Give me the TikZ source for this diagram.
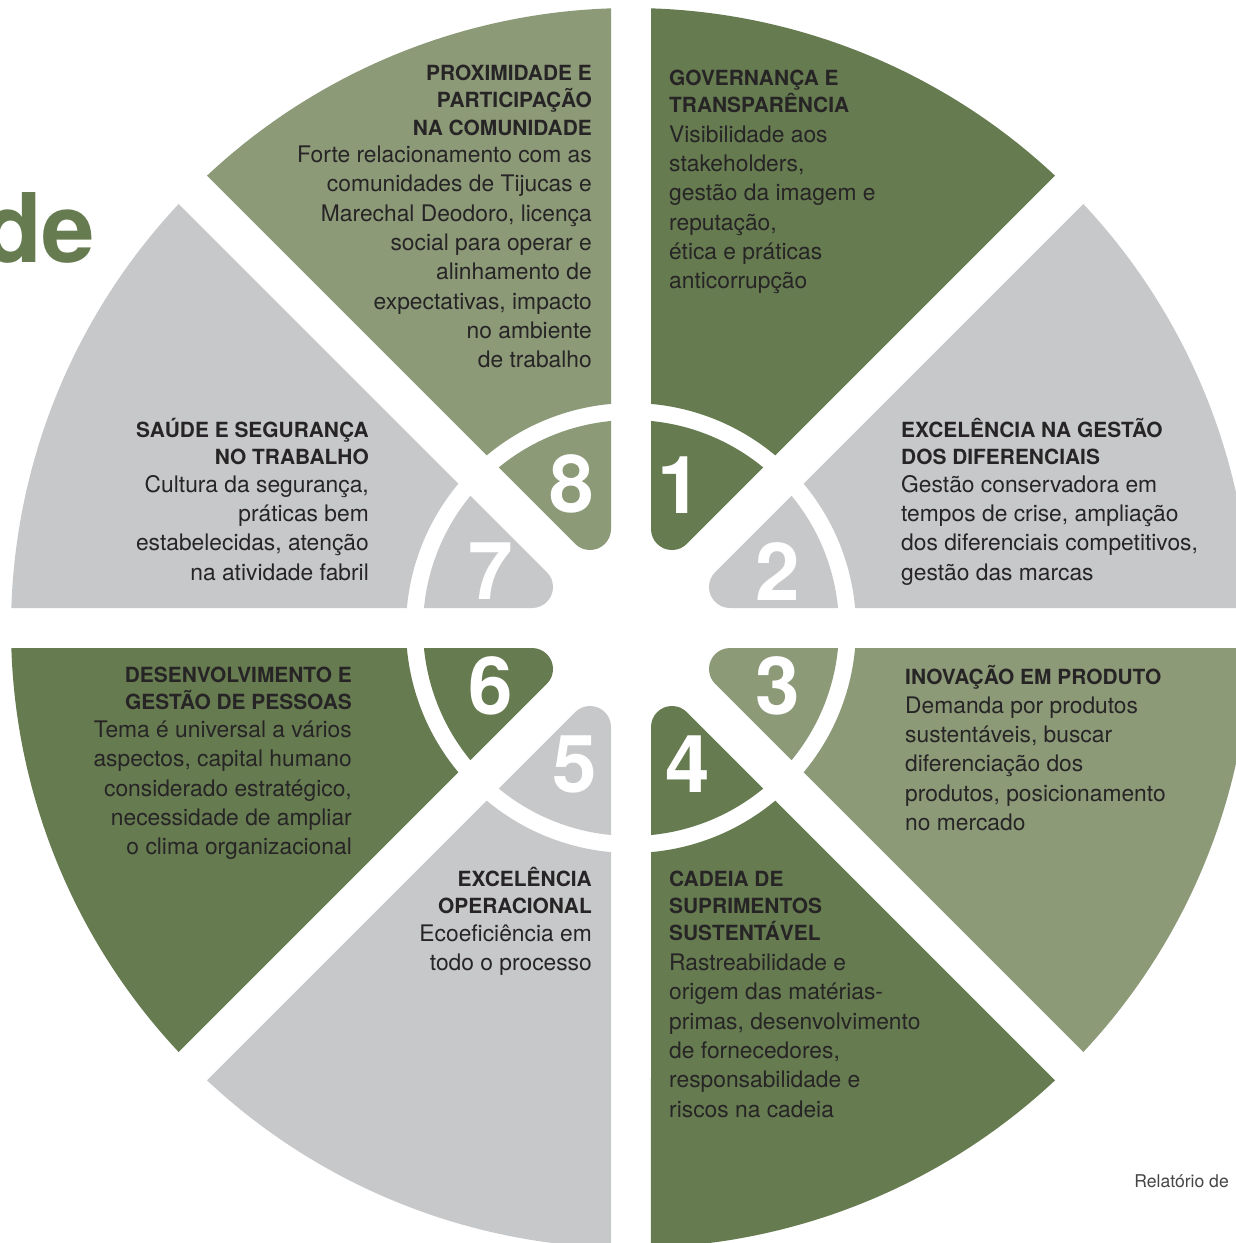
\documentclass[tikz,border=0pt]{standalone}
\usepackage{fontspec}
\setmainfont{TeX Gyre Heros}
\definecolor{dkg}{HTML}{667B50}
\definecolor{ltg}{HTML}{8D9A78}
\definecolor{gry}{HTML}{C7C8CA}
\definecolor{txt}{HTML}{262425}
\tikzset{
  hdr/.style={font=\fontsize{20.9}{25}\selectfont\bfseries, text=txt, inner sep=0pt},
  bdy/.style={font=\fontsize{22.8}{28}\selectfont, text=txt, inner sep=0pt},
  num/.style={font=\fontsize{80}{80}\selectfont\bfseries, text=white, inner sep=0pt},
}
\newcommand\blockR[6]{%
  \foreach \tline [count=\idx from 0] in {#5} {\node[hdr, anchor=base east] (#1h\idx) at (#2, -#3-\idx*27.3) {\tline};}
  \foreach \tline [count=\idx from 0] in {#6} {\node[bdy, anchor=base east] (#1b\idx) at (#2, -#4-\idx*29.35) {\tline};}
}
\newcommand\blockL[6]{%
  \foreach \tline [count=\idx from 0] in {#5} {\node[hdr, anchor=base west] (#1h\idx) at (#2, -#3-\idx*27.3) {\tline};}
  \foreach \tline [count=\idx from 0] in {#6} {\node[bdy, anchor=base west] (#1b\idx) at (#2, -#4-\idx*29.35) {\tline};}
}
\begin{document}
\begin{tikzpicture}[x=1pt,y=1pt]
\useasboundingbox (0,0) rectangle (1236,-1243);
\clip (0,0) rectangle (1236,-1243);
\fill[white] (0,0) rectangle (1236,-1243);
% sectors
\foreach \k/\c in {0/gry,1/dkg,2/ltg,3/gry,4/dkg,5/gry,6/dkg,7/ltg} {
  \begin{scope}[shift={(631,-628)}, rotate=45*\k]
    \fill[\c] (1.8485:620pt) arc[start angle=1.8485, end angle=43.1515, radius=620pt]
      -- (39.9:225pt) arc[start angle=39.9, end angle=5.1, radius=225pt] -- cycle;
    \fill[\c] (98.983pt,20pt) -- (5.518:208pt) arc[start angle=5.518, end angle=39.482, radius=208pt]
      -- (84.134pt,55.849pt) arc[start angle=135, end angle=270, radius=21pt] -- cycle;
  \end{scope}
}
% numbers
\node[num] (n1) at (680,-485) {1};
\node[num] (n2) at (777.5,-571.5) {2};
\node[num] (n3) at (778,-686) {3};
\node[num] (n4) at (687.5,-764) {4};
\node[num] (n5) at (574.5,-764) {5};
\node[num] (n6) at (491,-685.5) {6};
\node[num] (n7) at (490.7,-571.5) {7};
\node[num] (n8) at (572,-483.5) {8};
% text blocks
\blockR{B8}{592}{80.5}{162.5}{{PROXIMIDADE E},{PARTICIPAÇÃO},{NA COMUNIDADE}}{{Forte relacionamento com as},{comunidades de Tijucas e},{Marechal Deodoro, licença},{social para operar e},{alinhamento de},{expectativas, impacto},{no ambiente},{de trabalho}}
\blockL{B1}{669}{85.3}{142}{{GOVERNANÇA E},{TRANSPARÊNCIA}}{{Visibilidade aos},{stakeholders,},{gestão da imagem e},{reputação,},{ética e práticas},{anticorrupção}}
\blockL{B2}{901}{437.3}{492}{{EXCELÊNCIA NA GESTÃO},{DOS DIFERENCIAIS}}{{Gestão conservadora em},{tempos de crise, ampliação},{dos diferenciais competitivos,},{gestão das marcas}}
\blockR{B7}{369}{437.3}{492}{{SAÚDE E SEGURANÇA},{NO TRABALHO}}{{Cultura da segurança,},{práticas bem},{estabelecidas, atenção},{na atividade fabril}}
\blockR{B6}{352}{682}{737.5}{{DESENVOLVIMENTO E},{GESTÃO DE PESSOAS}}{{Tema é universal a vários},{aspectos, capital humano},{considerado estratégico,},{necessidade de ampliar},{o clima organizacional}}
\blockL{B3}{905}{684}{713}{{INOVAÇÃO EM PRODUTO}}{{Demanda por produtos},{sustentáveis, buscar},{diferenciação dos},{produtos, posicionamento},{no mercado}}
\blockR{B5}{592}{886}{941}{{EXCELÊNCIA},{OPERACIONAL}}{{Ecoeficiência em},{todo o processo}}
\blockL{B4}{669}{886}{970.5}{{CADEIA DE},{SUPRIMENTOS},{SUSTENTÁVEL}}{{Rastreabilidade e},{origem das matérias-},{primas, desenvolvimento},{de fornecedores,},{responsabilidade e},{riscos na cadeia}}
% cropped title and footer
\node[font=\fontsize{96}{96}\selectfont\bfseries, text=dkg, inner sep=0pt, anchor=base east] (title) at (95.5,-262.7) {de};
\node[font=\fontsize{17.6}{20}\selectfont, text=txt!85, inner sep=0pt, anchor=base east] (foot) at (1229,-1187.3) {Relatório de};
\end{tikzpicture}
\end{document}
